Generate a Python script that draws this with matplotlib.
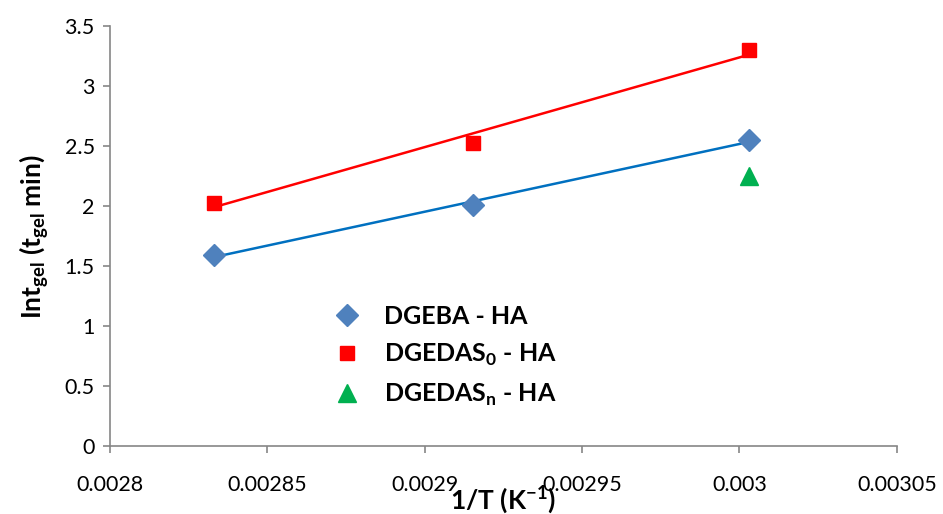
import numpy as np
import matplotlib
matplotlib.use('Agg')
import matplotlib.pyplot as plt

plt.rcParams['font.family'] = ['Lato', 'DejaVu Sans']
plt.rcParams['mathtext.fontset'] = 'custom'
plt.rcParams['mathtext.rm'] = 'Lato'
plt.rcParams['mathtext.bf'] = 'Lato:bold'

# 1/T for 353, 343, 333 K
invT = [0.0028329, 0.0029155, 0.0030030]
dgeba = [1.59, 2.01, 2.55]
dgedas0 = [2.03, 2.53, 3.30]
invT_n = [0.0030030]
dgedasn = [2.25]

xticks = [0.0028, 0.00285, 0.0029, 0.00295, 0.003, 0.00305]
xticklabels = ['0.0028', '0.00285', '0.0029', '0.00295', '0.003', '0.00305']
yticks = [0, 0.5, 1, 1.5, 2, 2.5, 3, 3.5]
yticklabels = ['0', '0.5', '1', '1.5', '2', '2.5', '3', '3.5']

fig = plt.figure(figsize=(9.43, 5.14), dpi=100)
ax = fig.add_axes([0.1166, 0.1323, 0.8344, 0.8167])

# linear trend lines
x = np.array(invT)
for yv, c in [(dgeba, '#0070C0'), (dgedas0, '#FF0000')]:
    p = np.polyfit(x, yv, 1)
    ax.plot(x, np.polyval(p, x), color=c, linewidth=1.8, zorder=2)

ax.plot(invT, dgeba, 'D', color='#4F81BD', markersize=11, linestyle='none',
        label='DGEBA - HA', zorder=3)
ax.plot(invT, dgedas0, 's', color='#FF0000', markersize=10, linestyle='none',
        label=r'DGEDAS$_\mathbf{0}$ - HA', zorder=3)
ax.plot(invT_n, dgedasn, '^', color='#00B050', markersize=13, linestyle='none',
        label=r'DGEDAS$_\mathbf{n}$ - HA', zorder=3)

ax.set_xlim(0.0028, 0.00305)
ax.set_ylim(0, 3.5)
ax.set_xticks(xticks)
ax.set_xticklabels(xticklabels)
ax.set_yticks(yticks)
ax.set_yticklabels(yticklabels)

for s in ['top', 'right']:
    ax.spines[s].set_visible(False)
for s in ['left', 'bottom']:
    ax.spines[s].set_color('#868686')
    ax.spines[s].set_linewidth(1.2)
ax.tick_params(axis='both', colors='#868686', labelcolor='black', labelsize=15.5,
               length=5, width=1.2, direction='out')
ax.tick_params(axis='x', pad=16)
ax.tick_params(axis='y', pad=6)

ax.set_xlabel(r'1/T (K$^{\mathbf{-1}}$)', fontsize=19, fontweight='bold')
ax.xaxis.set_label_coords(0.5, -0.088)
ax.set_ylabel(r'Int$_{\mathbf{gel}}$ (t$_{\mathbf{gel}}$ min)', fontsize=19,
              fontweight='bold', labelpad=10)

leg = ax.legend(loc='upper left', bbox_to_anchor=(0.25, 0.39), frameon=False,
                prop={'size': 18, 'weight': 'bold'}, handletextpad=0.8,
                labelspacing=0.55, handlelength=1.4)

plt.savefig('out.png', dpi=100)
